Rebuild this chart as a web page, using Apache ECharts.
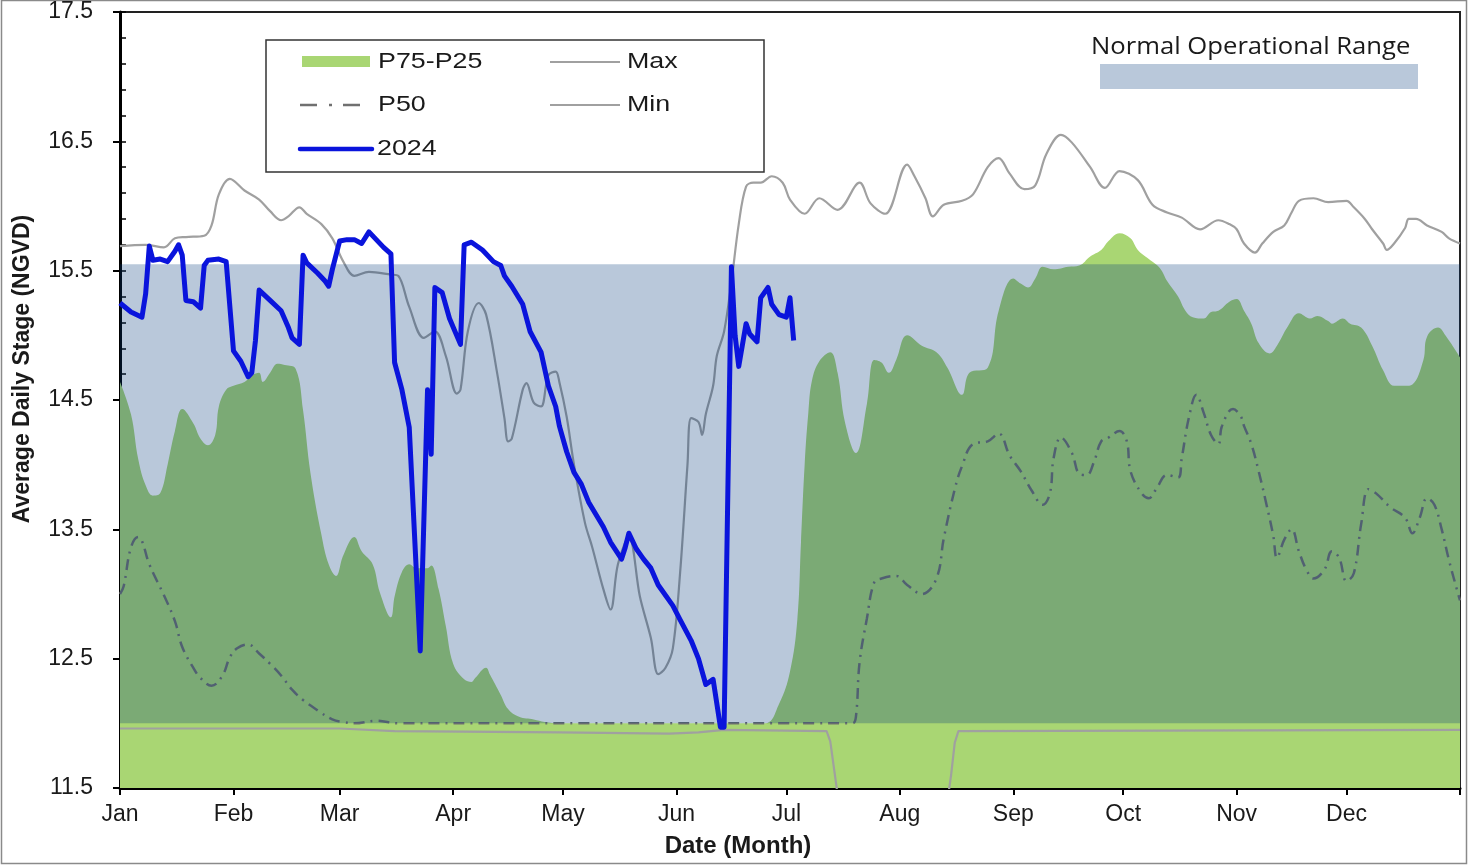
<!DOCTYPE html>
<html>
<head>
<meta charset="utf-8">
<title>Average Daily Stage</title>
<script src="https://cdn.jsdelivr.net/npm/echarts@6/dist/echarts.min.js"></script>
<style>
  html, body { margin: 0; padding: 0; background: #fff; }
  #chart { width: 1468px; height: 865px; }
</style>
</head>
<body>
<div id="chart"></div>
<script>
// Day-of-year positions (0 = Jan 1, leap year) of the month boundaries.
const MONTH_STARTS = [0, 31, 60, 91, 121, 152, 182, 213, 244, 274, 305, 335, 366];
const MONTH_LABELS = ['Jan', 'Feb', 'Mar', 'Apr', 'May', 'Jun', 'Jul', 'Aug', 'Sep', 'Oct', 'Nov', 'Dec'];

// Stage axis (ft NGVD)
const Y_MIN = 11.5;
const Y_MAX = 17.5;

// Normal operational range [bottom, top]
const NORMAL_RANGE = [12.0, 15.55];

// Series values as [day of year, stage]
const P75 = [
  [0,14.64],[3,14.39],[5,14.04],[7,13.84],[9,13.76],[11,13.78],[13,14.0],[15,14.26],[17,14.43],[20,14.32],
  [22,14.20],[24,14.15],[26,14.23],[27,14.45],[29,14.58],[31,14.61],[34,14.64],[36,14.69],[38,14.71],[39,14.64],
  [41,14.71],[43,14.78],[45,14.77],[48,14.74],[50,14.42],[52,13.94],[55,13.46],[57,13.23],[59,13.14],[61,13.30],
  [64,13.44],[66,13.33],[69,13.23],[71,13.01],[74,12.82],[75,12.98],[77,13.17],[79,13.23],[81,13.2],[84,13.2],
  [85,13.22],[87,13.04],[89,12.75],[91,12.46],[94,12.34],[96,12.32],[97,12.35],[100,12.43],[101,12.38],[104,12.22],
  [106,12.11],[109,12.05],[113,12.03],[116,12.01],[120,12.0],[176,12.0],[180,12.15],[183,12.4],[185,12.8],[186,13.4],
  [187,14.0],[188,14.4],[189,14.65],[191,14.8],[194,14.87],[196,14.71],[198,14.33],[201,14.09],[204,14.47],[206,14.81],
  [208,14.79],[210,14.71],[212,14.81],[215,15.0],[219,14.92],[223,14.87],[226,14.75],[230,14.54],[232,14.71],[237,14.75],
  [240,15.19],[244,15.44],[246,15.40],[248,15.37],[250,15.44],[252,15.53],[255,15.51],[259,15.53],[262,15.54],[265,15.61],
  [268,15.66],[270,15.73],[273,15.79],[276,15.75],[278,15.66],[281,15.59],[284,15.52],[286,15.42],[289,15.30],[291,15.19],
  [293,15.14],[296,15.13],[298,15.18],[300,15.19],[303,15.26],[305,15.28],[307,15.19],[309,15.09],[311,14.94],[314,14.86],
  [316,14.92],[319,15.07],[322,15.17],[325,15.13],[327,15.15],[330,15.11],[331,15.09],[334,15.13],[336,15.09],[339,15.06],
  [342,14.92],[345,14.73],[348,14.61],[351,14.61],[353,14.62],[356,14.81],[357,14.99],[360,15.06],[362,15.0],[366,14.83]
];

const P50 = [
  [0,13.0],[1,13.06],[3,13.36],[5,13.44],[6,13.41],[8,13.23],[12,12.99],[15,12.79],[17,12.59],[20,12.43],
  [22,12.35],[25,12.29],[28,12.37],[30,12.51],[32,12.58],[35,12.61],[38,12.54],[41,12.46],[44,12.37],[47,12.26],
  [50,12.18],[54,12.1],[58,12.03],[61,12.01],[64,12.0],[70,12.02],[76,12.0],[200,12.0],[201,12.05],[202,12.47],
  [204,12.81],[206,13.09],[208,13.12],[212,13.14],[215,13.07],[219,13.0],[223,13.12],[225,13.43],[228,13.81],[230,13.99],
  [233,14.16],[237,14.18],[240,14.24],[243,14.07],[246,13.95],[249,13.80],[252,13.69],[254,13.78],[255,14.05],[257,14.21],
  [260,14.09],[262,13.93],[264,13.92],[266,14.02],[268,14.18],[270,14.21],[273,14.26],[275,14.18],[276,13.95],[279,13.78],
  [281,13.74],[283,13.81],[286,13.92],[289,13.9],[290,14.05],[292,14.37],[294,14.54],[296,14.40],[298,14.23],[300,14.16],
  [301,14.30],[304,14.43],[306,14.38],[307,14.30],[309,14.16],[311,13.95],[313,13.71],[315,13.45],[316,13.28],[318,13.42],
  [320,13.5],[322,13.33],[324,13.19],[326,13.12],[329,13.19],[331,13.33],[333,13.28],[335,13.10],[337,13.16],[339,13.54],
  [341,13.81],[343,13.78],[347,13.67],[351,13.59],[353,13.47],[355,13.59],[357,13.74],[359,13.69],[361,13.50],[363,13.26],
  [365,13.05],[366,12.95]
];

const MAX = [
  [0,15.69],[7,15.70],[12,15.68],[15,15.75],[18,15.76],[23,15.77],[25,15.85],[27,16.09],[30,16.21],[34,16.12],
  [38,16.05],[41,15.96],[44,15.89],[46,15.92],[49,15.99],[51,15.94],[55,15.86],[58,15.75],[61,15.57],[64,15.46],
  [68,15.49],[74,15.47],[76,15.46],[79,15.22],[83,14.98],[86,15.03],[89,14.84],[92,14.55],[93,14.58],[95,15.03],
  [98,15.25],[100,15.16],[103,14.71],[105,14.36],[106,14.18],[107,14.2],[110,14.58],[111,14.63],[113,14.48],[115,14.45],
  [117,14.69],[119,14.72],[120,14.64],[122,14.37],[124,14.0],[127,13.55],[129,13.36],[132,13.04],[134,12.88],[136,13.23],
  [139,13.44],[142,12.98],[145,12.66],[147,12.38],[149,12.43],[151,12.58],[153,13.17],[155,14.0],[156,14.36],[158,14.33],
  [159,14.23],[160,14.39],[162,14.61],[163,14.84],[165,15.03],[167,15.41],[169,15.86],[171,16.15],[173,16.18],[175,16.18],
  [178,16.23],[181,16.18],[183,16.05],[187,15.94],[191,16.06],[196,15.97],[202,16.18],[205,16.02],[209,15.94],[215,16.32],
  [217,16.23],[220,16.06],[222,15.92],[225,16.01],[230,16.04],[233,16.09],[237,16.3],[240,16.37],[243,16.25],[247,16.13],
  [250,16.16],[253,16.40],[257,16.55],[260,16.49],[265,16.30],[269,16.14],[273,16.27],[278,16.2],[282,16.01],[286,15.95],
  [290,15.91],[295,15.82],[300,15.89],[303,15.86],[305,15.82],[307,15.71],[310,15.64],[312,15.71],[315,15.80],[318,15.85],
  [320,15.95],[322,16.04],[326,16.06],[330,16.03],[335,16.04],[337,15.99],[340,15.9],[342,15.82],[345,15.71],[346,15.66],
  [348,15.71],[351,15.83],[352,15.9],[354,15.9],[357,15.85],[361,15.8],[363,15.75],[366,15.71]
];

const MIN = [
  [0,11.96],[60,11.96],[75,11.94],[120,11.93],[150,11.92],[158,11.93],[165,11.95],[193,11.94],[194,11.86],[196,11.45],
  [198,10.8],[223,10.8],[224,11.0],[227,11.6],[228,11.85],[229,11.94],[366,11.95]
];

const Y2024 = [
  [0,15.25],[3,15.18],[6,15.14],[7,15.32],[8,15.69],[9,15.58],[11,15.59],[13,15.57],[15,15.65],[16,15.70],
  [17,15.62],[18,15.27],[20,15.26],[22,15.21],[23,15.54],[24,15.58],[27,15.59],[29,15.57],[31,14.88],[33,14.80],
  [35,14.68],[36,14.71],[37,14.96],[38,15.35],[41,15.27],[44,15.19],[46,15.06],[47,14.98],[49,14.93],[50,15.62],
  [51,15.56],[54,15.48],[56,15.42],[57,15.38],[58,15.51],[60,15.73],[62,15.74],[64,15.74],[66,15.71],[68,15.80],
  [70,15.74],[72,15.68],[74,15.63],[75,14.79],[77,14.58],[79,14.29],[82,12.56],[84,14.58],[85,14.08],[86,15.37],
  [88,15.33],[90,15.13],[93,14.93],[94,15.70],[96,15.72],[99,15.66],[102,15.57],[104,15.54],[105,15.46],[107,15.38],
  [110,15.24],[112,15.03],[115,14.87],[117,14.61],[119,14.45],[120,14.3],[122,14.1],[124,13.94],[126,13.85],[128,13.71],
  [132,13.52],[134,13.40],[137,13.27],[138,13.36],[139,13.47],[141,13.35],[143,13.27],[145,13.2],[147,13.07],[151,12.91],
  [153,12.80],[156,12.64],[158,12.50],[160,12.30],[162,12.34],[164,11.97],[165,11.97],[167,15.53],[168,15.0],[169,14.76],
  [171,15.09],[172,15.01],[174,14.95],[175,15.29],[177,15.37],[178,15.24],[180,15.16],[182,15.14],[183,15.29],[184,14.96]
];

const COLORS = {
  band: 'rgba(5,58,123,0.28)',
  bandSwatch: '#B9C8DA',
  iqr: '#A9D673',
  p50: '#707070',
  extreme: '#A0A0A0',
  y2024: '#0A14DC',
  text: '#1a1a1a'
};

const FONT = '"Liberation Sans", Arial, sans-serif';
const P50_DASH = [11, 6, 2, 6];
const KEY_SCALE = 1.22;   // legend lettering is set slightly wide

const chart = echarts.init(document.getElementById('chart'), null, { renderer: 'canvas' });

function keyText(x, y, text) {
  return {
    type: 'text', x: x, y: y, scaleX: KEY_SCALE,
    style: { text: text, fontSize: 22, fontFamily: FONT, fill: COLORS.text, verticalAlign: 'middle' }
  };
}

const option = {
  animation: false,
  backgroundColor: '#ffffff',
  textStyle: { fontFamily: FONT },
  grid: {
    left: 120, right: 8, top: 12, bottom: 77,
    outerBoundsMode: 'none',
    containLabel: false,
    show: true, borderColor: '#222', borderWidth: 2, backgroundColor: 'transparent'
  },
  xAxis: {
    type: 'value',
    min: 0,
    max: 366,
    splitLine: { show: false },
    axisLine: { lineStyle: { color: '#000', width: 3 } },
    axisTick: {
      customValues: MONTH_STARTS,
      length: 7,
      lineStyle: { color: '#000', width: 2 }
    },
    axisLabel: {
      customValues: MONTH_STARTS.slice(0, 12),
      formatter: v => MONTH_LABELS[MONTH_STARTS.indexOf(v)],
      fontSize: 23,
      color: COLORS.text,
      fontFamily: FONT,
      margin: 15
    },
    name: 'Date (Month)',
    nameLocation: 'middle',
    nameGap: 46,
    nameTextStyle: {
      fontSize: 24, fontWeight: 'bold', color: COLORS.text, fontFamily: FONT,
      padding: [0, 104, 0, 0]
    }
  },
  yAxis: [
    {
      type: 'value',
      min: Y_MIN,
      max: Y_MAX,
      interval: 1,
      splitLine: { show: false },
      axisLine: { show: true, lineStyle: { color: '#000', width: 3 } },
      axisTick: { show: true, length: 7, lineStyle: { color: '#000', width: 2 } },
      axisLabel: {
        formatter: v => v.toFixed(1),
        fontSize: 23,
        color: COLORS.text,
        fontFamily: FONT,
        margin: 27
      },
      name: 'Average Daily Stage (NGVD)',
      nameLocation: 'middle',
      nameGap: 86,
      nameTextStyle: {
        fontSize: 23, fontWeight: 'bold', color: COLORS.text, fontFamily: FONT,
        padding: [0, 0, 0, 62]
      }
    },
    {
      // inner minor ticks every 0.2 ft
      type: 'value',
      position: 'left',
      min: Y_MIN,
      max: Y_MAX,
      interval: 0.2,
      splitLine: { show: false },
      axisLine: { show: false },
      axisLabel: { show: false },
      axisTick: { show: true, inside: true, length: 6, lineStyle: { color: '#000', width: 1.5 } }
    }
  ],
  series: [
    {
      name: 'P75-P25',
      type: 'line',
      data: P75,
      smooth: 0.4,
      symbol: 'none',
      silent: true,
      lineStyle: { width: 0 },
      areaStyle: { color: COLORS.iqr, opacity: 1, origin: 'start' },
      z: 1
    },
    {
      name: 'P50',
      type: 'line',
      data: P50,
      smooth: 0.4,
      symbol: 'none',
      silent: true,
      lineStyle: { color: COLORS.p50, width: 2.5, type: P50_DASH },
      z: 2
    },
    {
      name: 'Max',
      type: 'line',
      data: MAX,
      smooth: 0.35,
      symbol: 'none',
      silent: true,
      lineStyle: { color: COLORS.extreme, width: 2.2 },
      z: 2
    },
    {
      name: 'Min',
      type: 'line',
      data: MIN,
      smooth: false,
      symbol: 'none',
      silent: true,
      clip: true,
      lineStyle: { color: COLORS.extreme, width: 2.2 },
      z: 2
    },
    {
      name: 'Normal Operational Range',
      type: 'line',
      data: [],
      silent: true,
      z: 3,
      markArea: {
        z: 3,
        silent: true,
        itemStyle: { color: COLORS.band },
        data: [[{ yAxis: NORMAL_RANGE[0] }, { yAxis: NORMAL_RANGE[1] }]]
      }
    },
    {
      name: '2024',
      type: 'line',
      data: Y2024,
      smooth: false,
      symbol: 'none',
      silent: true,
      lineStyle: { color: COLORS.y2024, width: 5, join: 'round' },
      z: 4
    }
  ],
  graphic: [
    // outer frame
    {
      type: 'rect', z: 0, silent: true,
      shape: { x: 1.5, y: 0.5, width: 1465, height: 863 },
      style: { fill: 'none', stroke: '#8a8a8a', lineWidth: 1.5 }
    },
    // legend box
    {
      type: 'group', z: 100, silent: true,
      children: [
        { type: 'rect', shape: { x: 266, y: 40, width: 498, height: 132 }, style: { fill: '#fff', stroke: '#333', lineWidth: 1.5 } },
        { type: 'rect', shape: { x: 302, y: 56, width: 68, height: 11 }, style: { fill: COLORS.iqr } },
        keyText(378, 62, 'P75-P25'),
        { type: 'line', shape: { x1: 300, y1: 105, x2: 364, y2: 105 }, style: { stroke: COLORS.p50, lineWidth: 2.5, lineDash: [17, 12, 3, 11] } },
        keyText(378, 105, 'P50'),
        { type: 'line', shape: { x1: 300, y1: 149, x2: 372, y2: 149 }, style: { stroke: COLORS.y2024, lineWidth: 4.5, lineCap: 'round' } },
        keyText(377, 149, '2024'),
        { type: 'line', shape: { x1: 550, y1: 62, x2: 620, y2: 62 }, style: { stroke: COLORS.extreme, lineWidth: 2 } },
        keyText(627, 62, 'Max'),
        { type: 'line', shape: { x1: 550, y1: 105, x2: 620, y2: 105 }, style: { stroke: COLORS.extreme, lineWidth: 2 } },
        keyText(627, 105, 'Min')
      ]
    },
    // normal operational range key
    {
      type: 'group', z: 100, silent: true,
      children: [
        {
          type: 'text', x: 1091, y: 47, scaleX: 1.115,
          style: { text: 'Normal Operational Range', fontSize: 23, fontFamily: '"Open Sans", sans-serif', fill: COLORS.text, verticalAlign: 'middle' }
        },
        { type: 'rect', shape: { x: 1100, y: 64, width: 318, height: 25 }, style: { fill: COLORS.bandSwatch } }
      ]
    }
  ]
};

chart.setOption(option);
</script>
</body>
</html>
